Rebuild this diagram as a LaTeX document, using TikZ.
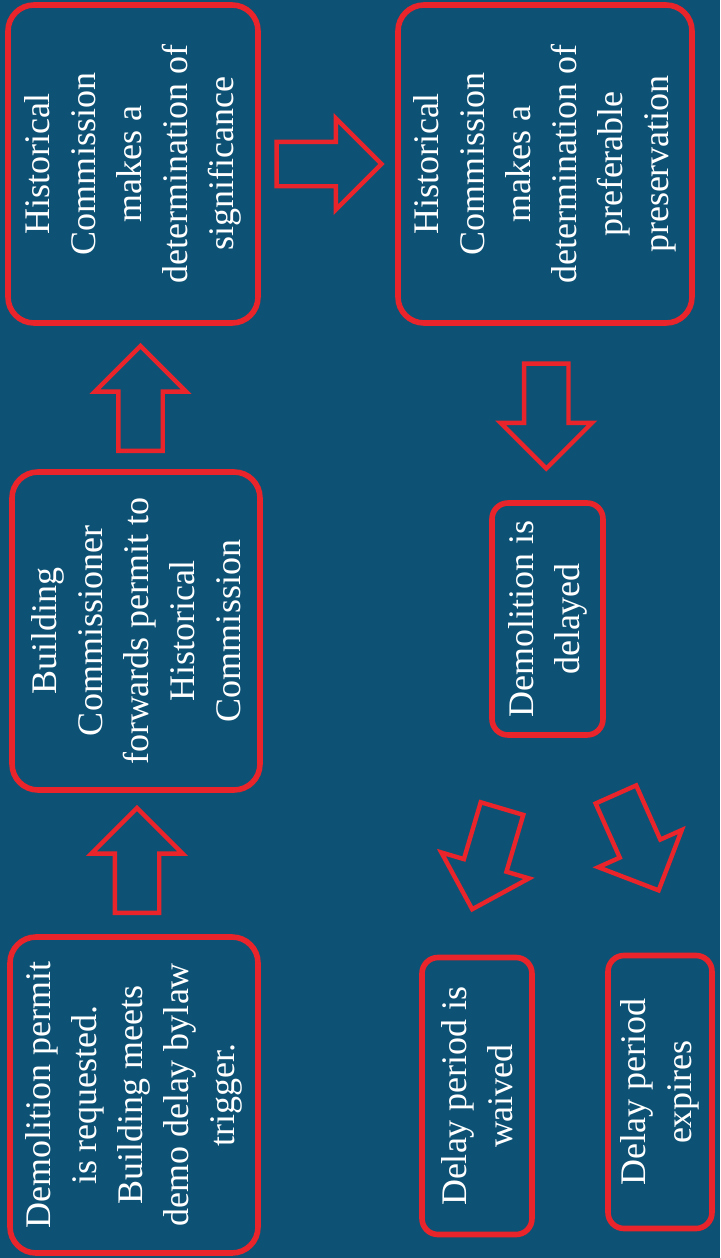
\documentclass[tikz,border=0pt]{standalone}
\usepackage{fontspec}
\setmainfont{Liberation Serif}
\usetikzlibrary{shapes.arrows,calc}
\definecolor{bgblue}{RGB}{13,82,117}
\definecolor{boxred}{RGB}{233,36,42}

\begin{document}
\begin{tikzpicture}[x=0.5pt, y=0.5pt,
  stepbox/.style = {draw=boxred, line width=2.8pt, rounded corners=13pt,
    rotate=90, inner sep=0pt, text=white, align=center,
    font=\fontsize{18}{23}\selectfont},
  smallbox/.style = {stepbox, rounded corners=8pt},
  flowarrow/.style = {single arrow, draw=boxred, line width=2.2pt,
    minimum width=43.5pt, minimum height=52.5pt,
    single arrow head extend=11.75pt, inner xsep=0pt, inner ysep=10pt}]
  \fill[bgblue] (0,0) rectangle (720,-1258);
  % main column
  \node[stepbox, minimum width=158pt, minimum height=124pt] (s1) at (134,-1095)
    {Demolition permit\\ is requested.\\ Building meets\\ demo delay bylaw\\ trigger.};
  \node[stepbox, minimum width=159pt, minimum height=124pt] (s2) at (136,-631)
    {Building\\ Commissioner\\ forwards permit to\\ Historical\\ Commission};
  \node[stepbox, minimum width=159pt, minimum height=125pt] (s3) at (133,-164)
    {Historical\\ Commission\\ makes a\\ determination of\\ significance};
  \node[stepbox, minimum width=159pt, minimum height=147pt] (s4) at (545,-164)
    {Historical\\ Commission\\ makes a\\ determination of\\ preferable\\ preservation};
  % outcomes
  \node[smallbox, minimum width=116pt, minimum height=55.5pt] (s5) at (547.5,-619)
    {Demolition is\\ delayed};
  \node[smallbox, minimum width=138.5pt, minimum height=55pt] (s6) at (477,-1096)
    {Delay period is\\ waived};
  \node[smallbox, minimum width=136.5pt, minimum height=52pt] (s7) at (660,-1092)
    {Delay period\\ expires};
  % block arrows
  \node[flowarrow, rotate=90] (a1) at ($(s1.east)!0.5!(s2.west)+(2,-8)$) {};
  \node[flowarrow, rotate=90] (a2) at ($(s2.east)!0.5!(s3.west)+(6,-12)$) {};
  \node[flowarrow] (a3) at ($(s3.south)!0.5!(s4.north)+(-10,0)$) {};
  \node[flowarrow, rotate=-90] (a4) at ($(s4.west)!0.5!(s5.east)+(0,8)$) {};
  \node[flowarrow, rotate=-106.5] (a5) at ($(s5.west)!0.5!(s6.east)+(-22,-2)$) {};
  \node[flowarrow, rotate=-66] (a6) at ($(s5.west)!0.5!(s7.east)+(29,13)$) {};
\end{tikzpicture}
\end{document}
